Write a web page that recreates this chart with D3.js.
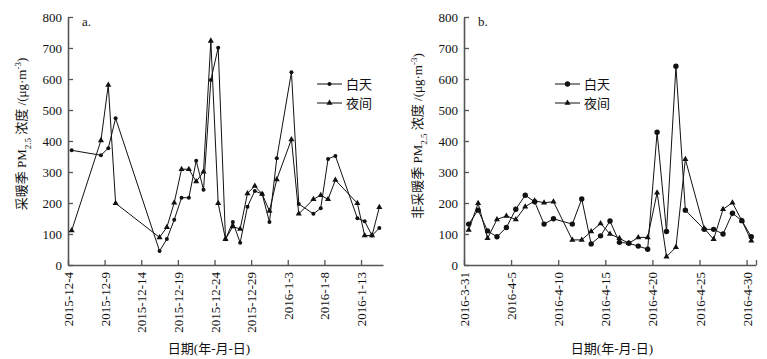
<!DOCTYPE html>
<html>
<head>
<meta charset="utf-8">
<script src="https://cdn.jsdelivr.net/npm/d3@7"></script>
<style>
  html, body { margin: 0; padding: 0; background: #fff; }
  svg { display: block; }
  text { font-family: "Liberation Serif", "Noto Sans CJK SC", serif; fill: #111; }
</style>
</head>
<body>
<div id="chart"></div>
<script>
/* ---- panel a: heating season ---- */
const heatDates = [
  '2015-12-04', '2015-12-08', '2015-12-09', '2015-12-10', '2015-12-16', '2015-12-17',
  '2015-12-18', '2015-12-19', '2015-12-20', '2015-12-21', '2015-12-22', '2015-12-23',
  '2015-12-24', '2015-12-25', '2015-12-26', '2015-12-27', '2015-12-28', '2015-12-29',
  '2015-12-30', '2015-12-31', '2016-01-01', '2016-01-03', '2016-01-04', '2016-01-06',
  '2016-01-07', '2016-01-08', '2016-01-09', '2016-01-12', '2016-01-13', '2016-01-14',
  '2016-01-15',
];
const heatDay = [
  370, 354, 377, 473, 45, 84, 146, 217, 217, 336, 243, 597, 701, 83, 139, 72,
  188, 239, 229, 139, 344, 622, 197, 165, 183, 342, 352, 151, 141, 95, 119,
];
const heatNight = [
  111, 402, 581, 199, 89, 122, 201, 309, 309, 269, 301, 723, 199, 83, 124, 116,
  231, 255, 229, 174, 276, 405, 165, 212, 225, 212, 274, 199, 95, 95, 186,
];
const heatTicks = ['2015-12-04', '2015-12-09', '2015-12-14', '2015-12-19', '2015-12-24',
                   '2015-12-29', '2016-01-03', '2016-01-08', '2016-01-13'];
const heatTickLabels = ['2015-12-4', '2015-12-9', '2015-12-14', '2015-12-19', '2015-12-24',
                        '2015-12-29', '2016-1-3', '2016-1-8', '2016-1-13'];
const heatRange = ['2015-12-04', '2016-01-16'];

/* ---- panel b: non-heating season ---- */
const nonHeatDates = [
  '2016-03-31', '2016-04-01', '2016-04-02', '2016-04-03', '2016-04-04', '2016-04-05',
  '2016-04-06', '2016-04-07', '2016-04-08', '2016-04-09', '2016-04-11', '2016-04-12',
  '2016-04-13', '2016-04-14', '2016-04-15', '2016-04-16', '2016-04-17', '2016-04-18',
  '2016-04-19', '2016-04-20', '2016-04-21', '2016-04-22', '2016-04-23', '2016-04-25',
  '2016-04-26', '2016-04-27', '2016-04-28', '2016-04-29', '2016-04-30',
];
const nonHeatDay = [
  132, 177, 110, 91, 121, 180, 225, 204, 132, 149, 132, 213, 68, 94, 142,
  73, 70, 61, 51, 428, 108, 641, 177, 115, 115, 100, 167, 143, 91,
];
const nonHeatNight = [
  113, 199, 86, 147, 158, 147, 188, 207, 201, 204, 81, 81, 108, 134, 100,
  86, 70, 89, 89, 233, 27, 57, 341, 118, 83, 180, 201, 143, 78,
];
const nonHeatTicks = ['2016-03-31', '2016-04-05', '2016-04-10', '2016-04-15', '2016-04-20',
                      '2016-04-25', '2016-04-30', '2016-05-01'];
const nonHeatTickLabels = ['2016-3-31', '2016-4-5', '2016-4-10', '2016-4-15', '2016-4-20',
                           '2016-4-25', '2016-4-30', ''];
const nonHeatRange = ['2016-03-31', '2016-05-01'];

const yTicks = [0, 100, 200, 300, 400, 500, 600, 700, 800];
const seriesNames = ['白天', '夜间'];

const W = 767, H = 359;
const parseDate = d3.timeParse('%Y-%m-%d');
const noon = s => d3.timeHour.offset(parseDate(s), 12);

const svg = d3.select('#chart').append('svg')
  .attr('width', W).attr('height', H)
  .attr('viewBox', `0 0 ${W} ${H}`);

svg.append('rect').attr('width', W).attr('height', H).attr('fill', '#fff');

const y = d3.scaleLinear().domain([0, 800]).range([265, 17]);

function drawPanel(p) {
  const x = d3.scaleTime()
    .domain(p.range.map(parseDate))
    .range([p.x0, p.x1]);

  const g = svg.append('g');

  /* y axis – ticks point inward */
  const yAxis = g.append('g')
    .attr('transform', `translate(${p.x0},0)`)
    .call(d3.axisLeft(y).tickValues(yTicks).tickSizeInner(-5).tickSizeOuter(0).tickPadding(6));
  yAxis.selectAll('text').attr('font-size', 13).attr('fill', '#111')
    .attr('font-family', '"Liberation Serif", serif');

  /* x axis with vertical date labels */
  const xAxis = g.append('g')
    .attr('transform', 'translate(0,265)')
    .call(d3.axisBottom(x)
      .tickValues(p.ticks.map(parseDate))
      .tickFormat((d, i) => p.tickLabels[i])
      .tickSizeInner(-5).tickSizeOuter(0));
  xAxis.selectAll('text')
    .attr('font-size', 13).attr('fill', '#111')
    .attr('font-family', '"Liberation Serif", serif')
    .attr('transform', 'rotate(-90)')
    .attr('text-anchor', 'end')
    .attr('x', -7).attr('y', 0).attr('dy', '0.35em');

  [yAxis, xAxis].forEach(a => {
    a.select('.domain').attr('stroke', '#555').attr('stroke-width', 1.6);
    a.selectAll('.tick line').attr('stroke', '#555').attr('stroke-width', 1.3);
  });

  const line = d3.line().x(d => x(d.t)).y(d => y(d.v));
  const day = p.dates.map((s, i) => ({ t: noon(s), v: p.day[i] }));
  const night = p.dates.map((s, i) => ({ t: noon(s), v: p.night[i] }));

  [day, night].forEach(series => {
    g.append('path').datum(series)
      .attr('d', line)
      .attr('fill', 'none')
      .attr('stroke', '#111')
      .attr('stroke-width', 1);
  });

  const tri = d3.symbol().type(d3.symbolTriangle).size(p.triSize);

  g.append('g').selectAll('path')
    .data(night)
    .join('path')
    .attr('d', tri)
    .attr('transform', d => `translate(${x(d.t)},${y(d.v)})`)
    .attr('fill', '#111');

  g.append('g').selectAll('circle')
    .data(day)
    .join('circle')
    .attr('cx', d => x(d.t)).attr('cy', d => y(d.v))
    .attr('r', p.r)
    .attr('fill', '#111');

  /* panel letter */
  g.append('text')
    .attr('x', p.x0 + 14).attr('y', 26)
    .attr('font-size', 13)
    .text(p.letter);

  /* y title with sub/superscript */
  const yt = g.append('text')
    .attr('transform', `translate(${p.titleX},${p.titleY}) rotate(-90)`)
    .attr('text-anchor', 'middle')
    .attr('font-size', 13);
  yt.append('tspan').text(p.yPrefix + ' PM');
  yt.append('tspan').attr('baseline-shift', 'sub').attr('font-size', 9).text('2.5');
  yt.append('tspan').text(' 浓度 /(μg·m');
  yt.append('tspan').attr('baseline-shift', 'super').attr('font-size', 9).text('-3');
  yt.append('tspan').text(')');

  /* x title */
  g.append('text')
    .attr('x', p.xTitleX).attr('y', 353)
    .attr('text-anchor', 'middle')
    .attr('font-size', 13)
    .text('日期(年-月-日)');

  /* legend */
  const lg = g.append('g').attr('transform', `translate(${p.legX},84)`);
  seriesNames.forEach((name, i) => {
    const row = lg.append('g').attr('transform', `translate(0,${i * 19})`);
    row.append('line')
      .attr('x1', 0).attr('x2', 25)
      .attr('stroke', '#111').attr('stroke-width', 1);
    if (i === 0) {
      row.append('circle').attr('cx', 12.5).attr('r', p.r).attr('fill', '#111');
    } else {
      row.append('path').attr('d', tri)
        .attr('transform', 'translate(12.5,0)').attr('fill', '#111');
    }
    row.append('text')
      .attr('x', 29).attr('dy', '0.36em')
      .attr('font-size', 13)
      .text(name);
  });
}

drawPanel({
  dates: heatDates, day: heatDay, night: heatNight,
  ticks: heatTicks, tickLabels: heatTickLabels, range: heatRange,
  x0: 68, x1: 383, r: 2, triSize: 16,
  letter: 'a.', yPrefix: '采暖季',
  titleX: 26, titleY: 134, xTitleX: 209, legX: 317,
});

drawPanel({
  dates: nonHeatDates, day: nonHeatDay, night: nonHeatNight,
  ticks: nonHeatTicks, tickLabels: nonHeatTickLabels, range: nonHeatRange,
  x0: 464, x1: 756, r: 2.7, triSize: 16,
  letter: 'b.', yPrefix: '非采暖季',
  titleX: 422, titleY: 136, xTitleX: 612, legX: 555,
});
</script>
</body>
</html>
